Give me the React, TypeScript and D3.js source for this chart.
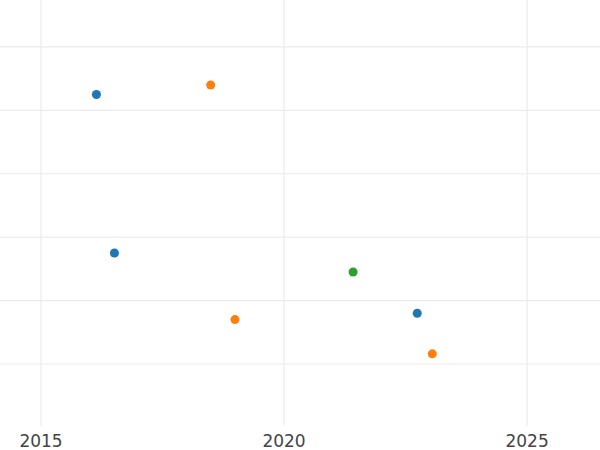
import React from "react";
import * as d3 from "d3";

const xTicks = [2015, 2020, 2025];
const yGrid = [1, 2, 3, 4, 5, 6];

const seriesNames = ["A", "B", "C"];
const seriesColors = ["#1f77b4", "#ff7f0e", "#2ca02c"];
const seriesAYears = [2016.14, 2016.51, 2022.74];
const seriesAValues = [5.25, 2.75, 1.8];
const seriesBYears = [2018.49, 2018.99, 2023.05];
const seriesBValues = [5.4, 1.7, 1.16];
const seriesCYears = [2021.42];
const seriesCValues = [2.45];

const W = 600;
const H = 450;
const plotBottom = 426;

export default function App() {
  const x = d3.scaleLinear().domain([2014.156, 2026.5]).range([0, W]);
  const y = d3.scaleLinear().domain([0.022, 6.74]).range([plotBottom, 0]);

  const series = [
    { name: seriesNames[0], color: seriesColors[0], xs: seriesAYears, ys: seriesAValues },
    { name: seriesNames[1], color: seriesColors[1], xs: seriesBYears, ys: seriesBValues },
    { name: seriesNames[2], color: seriesColors[2], xs: seriesCYears, ys: seriesCValues },
  ];

  return (
    <svg
      width={W}
      height={H}
      style={{ position: "fixed", left: 0, top: 0, background: "#fff" }}
      fontFamily="DejaVu Sans"
    >
      <rect x={0} y={0} width={W} height={H} fill="#fff" />
      <g>
        {yGrid.map((v) => (
          <line key={"y" + v} x1={0} x2={W} y1={y(v)} y2={y(v)} stroke="#ebebeb" strokeWidth={1.2} />
        ))}
        {xTicks.map((v) => (
          <line key={"x" + v} x1={x(v)} x2={x(v)} y1={0} y2={plotBottom} stroke="#ebebeb" strokeWidth={1.2} />
        ))}
      </g>
      <g>
        {series.map((s) =>
          s.xs.map((xv, i) => (
            <circle key={s.name + i} cx={x(xv)} cy={y(s.ys[i])} r={4.5} fill={s.color} />
          ))
        )}
      </g>
      <g>
        {xTicks.map((v) => (
          <text key={"t" + v} x={x(v)} y={446.5} textAnchor="middle" fontSize={17} fill="#444">
            {v}
          </text>
        ))}
      </g>
    </svg>
  );
}
